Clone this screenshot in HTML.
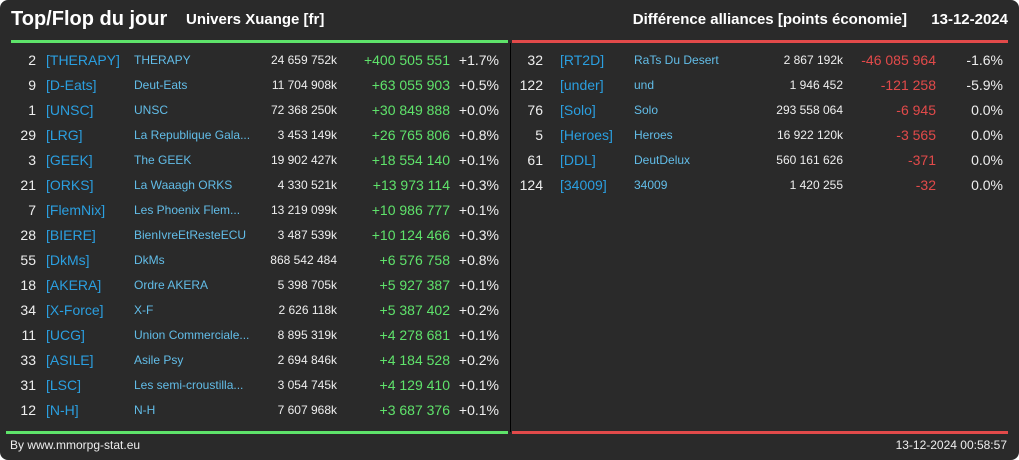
<!DOCTYPE html>
<html><head><meta charset="utf-8"><style>
html,body{margin:0;padding:0;background:#fff;}
#card{position:absolute;left:0;top:0;width:1019px;height:460px;background:#2a2a2a;border-radius:8px;overflow:hidden;font-family:"Liberation Sans",sans-serif;color:#eee;}
.t{position:absolute;white-space:nowrap;line-height:1;}
.r{text-align:right;}
.tag{color:#2a9fe0;font-size:14px;}
.nm{color:#62bde8;font-size:12px;}
.num{font-size:12px;color:#eee;}
.big{font-size:14px;}
.g{color:#5fe36b;font-size:14px;}
.red{color:#e24a4a;font-size:14px;}
</style></head><body>
<div id="card">
<div class="t" style="left:11px;top:9px;font-size:20px;font-weight:bold;color:#fff">Top/Flop du jour</div>
<div class="t" style="left:186px;top:12px;font-size:15px;font-weight:bold;color:#fff">Univers Xuange [fr]</div>
<div class="t r" style="right:112px;top:12px;font-size:15px;font-weight:bold;color:#fff">Différence alliances [points économie]</div>
<div class="t r" style="right:11px;top:12px;font-size:15px;font-weight:bold;color:#fff">13-12-2024</div>
<div style="position:absolute;left:11px;top:40px;width:497px;height:3px;background:#5ee36a"></div>
<div style="position:absolute;left:512px;top:40px;width:496px;height:3px;background:#e24a4a"></div>
<div style="position:absolute;left:510px;top:43px;width:1px;height:389px;background:#000"></div>
<div style="position:absolute;left:6px;top:431px;width:502px;height:3px;background:#5ee36a"></div>
<div style="position:absolute;left:512px;top:431px;width:496px;height:3px;background:#e24a4a"></div>
<div class="t" style="left:10px;top:439px;font-size:12px">By www.mmorpg-stat.eu</div>
<div class="t r" style="right:12px;top:439px;font-size:12px">13-12-2024 00:58:57</div>
<div id="rows"></div>
</div>
<script>
const topRanks=[2,9,1,29,3,21,7,28,55,18,34,11,33,31,12];
const topTags=["[THERAPY]","[D-Eats]","[UNSC]","[LRG]","[GEEK]","[ORKS]","[FlemNix]","[BIERE]","[DkMs]","[AKERA]","[X-Force]","[UCG]","[ASILE]","[LSC]","[N-H]"];
const topNames=["THERAPY","Deut-Eats","UNSC","La Republique Gala...","The GEEK","La Waaagh ORKS","Les Phoenix Flem...","BienIvreEtResteECU","DkMs","Ordre AKERA","X-F","Union Commerciale...","Asile Psy","Les semi-croustilla...","N-H"];
const topValues=["24 659 752k","11 704 908k","72 368 250k","3 453 149k","19 902 427k","4 330 521k","13 219 099k","3 487 539k","868 542 484","5 398 705k","2 626 118k","8 895 319k","2 694 846k","3 054 745k","7 607 968k"];
const topDiffs=["+400 505 551","+63 055 903","+30 849 888","+26 765 806","+18 554 140","+13 973 114","+10 986 777","+10 124 466","+6 576 758","+5 927 387","+5 387 402","+4 278 681","+4 184 528","+4 129 410","+3 687 376"];
const topPcts=["+1.7%","+0.5%","+0.0%","+0.8%","+0.1%","+0.3%","+0.1%","+0.3%","+0.8%","+0.1%","+0.2%","+0.1%","+0.2%","+0.1%","+0.1%"];
const flopRanks=[32,122,76,5,61,124];
const flopTags=["[RT2D]","[under]","[Solo]","[Heroes]","[DDL]","[34009]"];
const flopNames=["RaTs Du Desert","und","Solo","Heroes","DeutDelux","34009"];
const flopValues=["2 867 192k","1 946 452","293 558 064","16 922 120k","560 161 626","1 420 255"];
const flopDiffs=["-46 085 964","-121 258","-6 945","-3 565","-371","-32"];
const flopPcts=["-1.6%","-5.9%","0.0%","0.0%","0.0%","0.0%"];
const host=document.getElementById('rows');
function cell(cls,txt,left,right,top){
  const d=document.createElement('div');
  d.className='t '+cls;d.textContent=txt;
  if(left!=null)d.style.left=left+'px';
  if(right!=null){d.style.right=(1019-right)+'px';d.classList.add('r');}
  d.style.top=top+'px';
  host.appendChild(d);return d;
}
function rowY(i){return 53+i*25;}
topRanks.forEach((rk,i)=>{
  const y=rowY(i);
  let e;
  e=cell('big',rk,null,36,y);
  
  
  e=cell('tag',topTags[i],46,null,y);
  
  
  e=cell('nm',topNames[i],134,null,y+1);
  
  
  e=cell('num',topValues[i],null,337,y+1);
  
  
  e=cell('g',topDiffs[i],null,450,y);
  
  
  e=cell('big',topPcts[i],null,499,y);
  
  
});
flopRanks.forEach((rk,i)=>{
  const y=rowY(i);
  let e;
  e=cell('big',rk,null,543,y);
  
  
  e=cell('tag',flopTags[i],560,null,y);
  
  
  e=cell('nm',flopNames[i],634,null,y+1);
  
  
  e=cell('num',flopValues[i],null,843,y+1);
  
  
  e=cell('red',flopDiffs[i],null,936,y);
  
  
  e=cell('big',flopPcts[i],null,1003,y);
  
  
});
</script>
</body></html>
